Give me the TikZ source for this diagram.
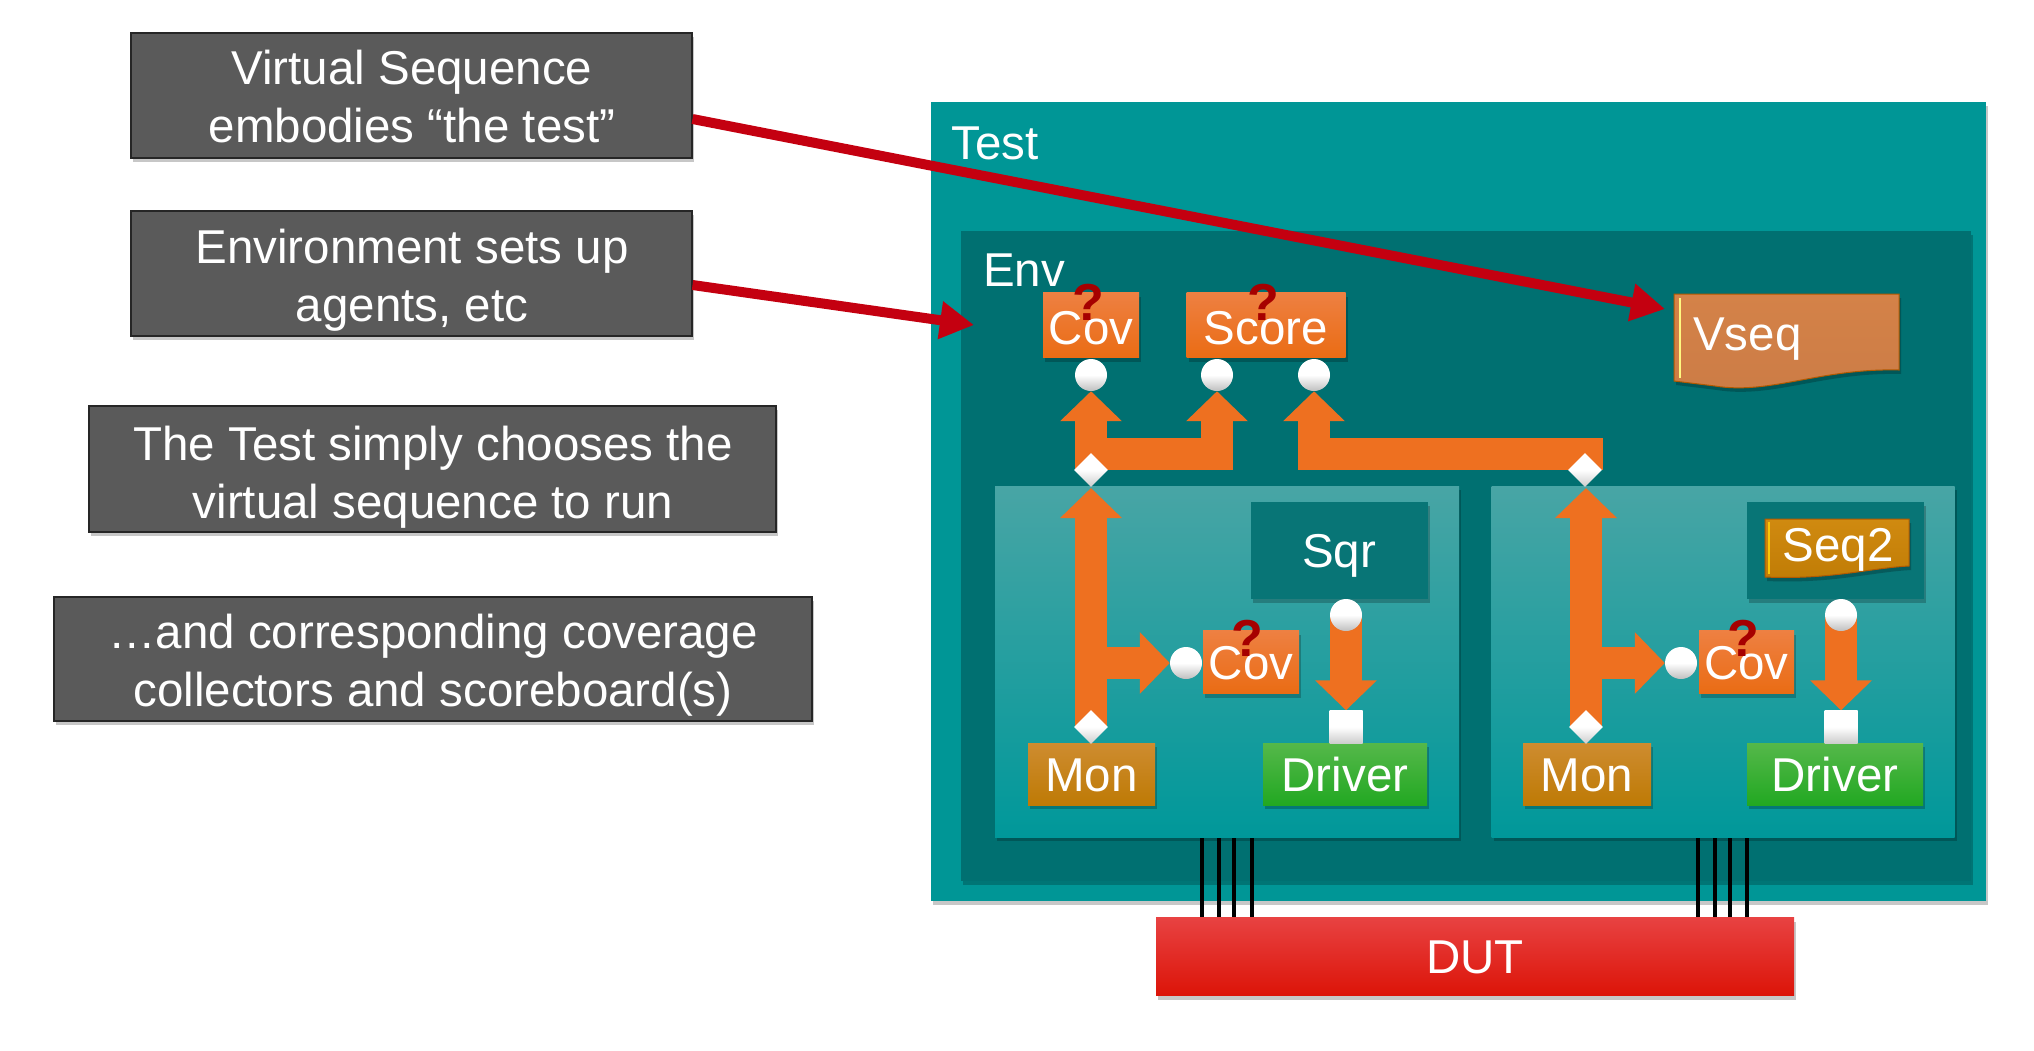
\documentclass[tikz,border=0pt]{standalone}
\usepackage{fontspec}
\setmainfont{Liberation Sans}
\usepackage{xcolor}
\usepackage{tikz}
\usetikzlibrary{positioning,shapes.geometric,shadows,arrows.meta,calc}
\definecolor{testteal}{RGB}{0,150,150}
\definecolor{envteal}{RGB}{0,112,113}
\definecolor{sqrteal}{RGB}{8,117,118}
\definecolor{noteg}{RGB}{90,90,90}
\definecolor{blockor}{RGB}{238,112,32}
\definecolor{redarr}{RGB}{196,0,16}
\definecolor{agtop}{RGB}{72,165,165}
\definecolor{agmid}{RGB}{20,162,163}
\definecolor{agbot}{RGB}{0,152,154}
\definecolor{covA}{RGB}{238,128,66}
\definecolor{covB}{RGB}{234,108,20}
\definecolor{monA}{RGB}{206,140,48}
\definecolor{monB}{RGB}{190,122,5}
\definecolor{drvA}{RGB}{85,184,74}
\definecolor{drvB}{RGB}{34,168,34}
\definecolor{dutA}{RGB}{232,66,66}
\definecolor{dutB}{RGB}{220,20,8}
\definecolor{vseqA}{RGB}{212,130,72}
\definecolor{vseqB}{RGB}{204,124,70}
\definecolor{seqA}{RGB}{208,138,16}
\definecolor{seqB}{RGB}{192,124,6}
\pgfdeclarelayer{pins}
\pgfsetlayers{main,pins}
\tikzset{
  softshadow/.style={drop shadow={shadow xshift=2pt,shadow yshift=-4pt,opacity=.22,fill=black}},
  labeltext/.style={text=white,font=\fontsize{47.5}{58}\selectfont},
  flatbox/.style={rectangle,inner sep=0pt,labeltext,text height=34pt,text depth=0pt,softshadow},
  notebox/.style={rectangle,inner sep=0pt,draw=black!85,line width=2pt,fill=noteg,softshadow},
  notetext/.style={labeltext,align=center,inner sep=0pt},
  holder/.style={rectangle,inner sep=0pt,softshadow},
  agentbox/.style={holder,top color=agtop,middle color=agmid,bottom color=agbot},
  covbox/.style={flatbox,top color=covA,bottom color=covB},
  monbox/.style={flatbox,top color=monA,bottom color=monB},
  drvbox/.style={flatbox,top color=drvA,bottom color=drvB},
  ballpin/.style={circle,minimum size=32pt,inner sep=0pt,top color=white,bottom color=black!25,middle color=white},
  diapin/.style={diamond,minimum size=34pt,inner sep=0pt,top color=white,bottom color=black!20,middle color=white},
  squarepin/.style={rectangle,minimum size=33pt,inner sep=0pt,top color=white,bottom color=black!20,middle color=white},
  qmark/.style={text=red!65!black,inner sep=0pt,font=\bfseries\fontsize{52}{52}\selectfont},
  blockarr/.style={draw=blockor,line width=32pt,-{Triangle[length=30pt,width=60pt]}},
  redarrow/.style={draw=redarr,line width=10pt,-{Triangle[length=34pt,width=36pt]}},
  wire/.style={draw=black,line width=3.5pt},
  seqshape/.style={draw=orange!70!black,line width=1pt,softshadow},
}

\begin{document}
\begin{tikzpicture}[x=1pt,y=-1pt]
  \useasboundingbox (0,0) rectangle (2034,1050);

  % left notes
  \node[notebox,minimum width=561pt,minimum height=125pt] (notevseq) at (411,95) {};
  \node[notetext] (notevseqtxt) at (412,97) {Virtual Sequence\\embodies “the test”};
  \node[notebox,minimum width=561pt,minimum height=125pt] (noteenv) at (411,273) {};
  \node[notetext] (noteenvtxt) at (412,280) {Environment sets up\\agents, etc};
  \node[notebox,minimum width=687pt,minimum height=126pt] (notetest) at (432,469) {};
  \node[notetext] (notetesttxt) at (433,477) {The Test simply chooses the\\virtual sequence to run};
  \node[notebox,minimum width=758pt,minimum height=124pt] (notecov) at (433,659) {};
  \node[notetext] (notecovtxt) at (433,665) {…and corresponding coverage\\collectors and scoreboard(s)};

  % containers
  \node[holder,fill=testteal,minimum width=1055pt,minimum height=799pt] (test) at (1458.5,501.5) {};
  \node[labeltext,anchor=west,inner sep=0pt] (testlbl) at (951,143) {Test};
  \node[holder,fill=envteal,minimum width=1010pt,minimum height=650pt] (env) at (1466,556) {};
  \node[labeltext,anchor=west,inner sep=0pt] (envlbl) at (983,270) {Env};
  \node[agentbox,minimum width=464pt,minimum height=351pt] (agentone) at (1227,661.5) {};
  \node[agentbox,minimum width=463pt,minimum height=351pt] (agenttwo) at (1723,661.5) {};

  % blocks in the env
  \node[covbox,text height=38pt,minimum width=96pt,minimum height=65pt] (covtop) at (1091,325) {Cov};
  \node[covbox,text height=38pt,minimum width=159pt,minimum height=65pt] (score) at (1266,325) {Score};
  \draw[seqshape,top color=vseqA,bottom color=vseqB]
    (1674,294) -- (1899,294) -- (1899,370) .. controls (1820,368) and (1770,395) .. (1715,386) -- (1674,381) -- cycle;
  \draw[draw=yellow!50!white,line width=2.5pt] (1680,298) -- (1680,378);
  \node[labeltext,anchor=west,inner sep=0pt] (vseq) at (1693,339) {Vseq};

  % agent one
  \node[flatbox,fill=sqrteal,minimum width=177pt,minimum height=97pt] (sqrone) at (1339,550.5) {Sqr};
  \node[covbox,minimum width=96pt,minimum height=63pt] (covone) at (1251,662) {Cov};
  \node[monbox,minimum width=127pt,minimum height=62pt] (monone) at (1091.5,774) {Mon};
  \node[drvbox,minimum width=164pt,minimum height=62pt] (drvone) at (1345,774) {Driver};

  % agent two
  \node[holder,fill=sqrteal,minimum width=177pt,minimum height=97pt] (sqrtwo) at (1835,550.5) {};
  \draw[seqshape,top color=seqA,bottom color=seqB]
    (1765,519) -- (1909,519) -- (1909,566) .. controls (1870,568) and (1830,580) .. (1765,577) -- cycle;
  \draw[draw=yellow!60!orange,line width=2.5pt] (1769,522) -- (1769,574);
  \node[labeltext,inner sep=0pt] (seqtwo) at (1838,550) {Seq2};
  \node[covbox,minimum width=95pt,minimum height=63pt] (covtwo) at (1746.5,662) {Cov};
  \node[monbox,minimum width=128pt,minimum height=62pt] (montwo) at (1587,774) {Mon};
  \node[drvbox,minimum width=176pt,minimum height=62pt] (drvtwo) at (1835,774) {Driver};

  % dut and the bus wires
  \node[flatbox,top color=dutA,bottom color=dutB,minimum width=638pt,minimum height=78pt] (dut) at (1475,956.5) {DUT};
  \coordinate (wa) at (1202,838);
  \coordinate (wb) at (1219,838);
  \coordinate (wc) at (1234,838);
  \coordinate (wd) at (1252,838);
  \coordinate (we) at (1698,838);
  \coordinate (wf) at (1715,838);
  \coordinate (wg) at (1730,838);
  \coordinate (wh) at (1747,838);
  \draw[wire] (wa) -- (wa |- dut.north);
  \draw[wire] (wb) -- (wb |- dut.north);
  \draw[wire] (wc) -- (wc |- dut.north);
  \draw[wire] (wd) -- (wd |- dut.north);
  \draw[wire] (we) -- (we |- dut.north);
  \draw[wire] (wf) -- (wf |- dut.north);
  \draw[wire] (wg) -- (wg |- dut.north);
  \draw[wire] (wh) -- (wh |- dut.north);

  % pins
  \begin{pgfonlayer}{pins}
    \node[ballpin] (pincov) at (1091,375) {};
    \node[ballpin] (pinsa) at (1217,375) {};
    \node[ballpin] (pinsb) at (1314,375) {};
    \node[diapin] (diaone) at (1091,470) {};
    \node[diapin] (diatwo) at (1585,470) {};
    \node[ballpin] (pincovone) at (1186,663) {};
    \node[ballpin] (pincovtwo) at (1681,663) {};
    \node[ballpin] (pinsqrone) at (1346,615) {};
    \node[ballpin] (pinsqrtwo) at (1841,615) {};
    \node[diapin] (diamonone) at (1091,727) {};
    \node[diapin] (diamontwo) at (1586,727) {};
    \node[squarepin] (pindrvone) at (1346,727) {};
    \node[squarepin] (pindrvtwo) at (1841,727) {};
    \node[qmark] (qa) at (1088,302) {?};
    \node[qmark] (qb) at (1263,302) {?};
    \node[qmark] (qc) at (1247,638) {?};
    \node[qmark] (qd) at (1743,638) {?};
  \end{pgfonlayer}

  % block arrows
  \coordinate (barleft) at (1075,454);
  \coordinate (barright) at (1603,454);
  \draw[blockarr] (diaone.center) -- (pincov);
  \draw[blockarr] (barleft) -| (pinsa);
  \draw[blockarr] (barright) -| (pinsb);
  \draw[blockarr] (diamonone.center) -- (1091,488);
  \draw[blockarr] (diamontwo.center) -- (1586,488);
  \draw[blockarr] (1091,663) -- (pincovone);
  \draw[blockarr] (1586,663) -- (pincovtwo);
  \draw[blockarr] (pinsqrone.center) -- (pindrvone);
  \draw[blockarr] (pinsqrtwo.center) -- (pindrvtwo);

  % callouts
  \coordinate (tipvseq) at (1665,309);
  \coordinate (tipenv) at (974,325);
  \draw[redarrow] ([yshift=-24pt]notevseq.east) -- (tipvseq);
  \draw[redarrow] ([yshift=-12pt]noteenv.east) -- (tipenv);
\end{tikzpicture}
\end{document}
